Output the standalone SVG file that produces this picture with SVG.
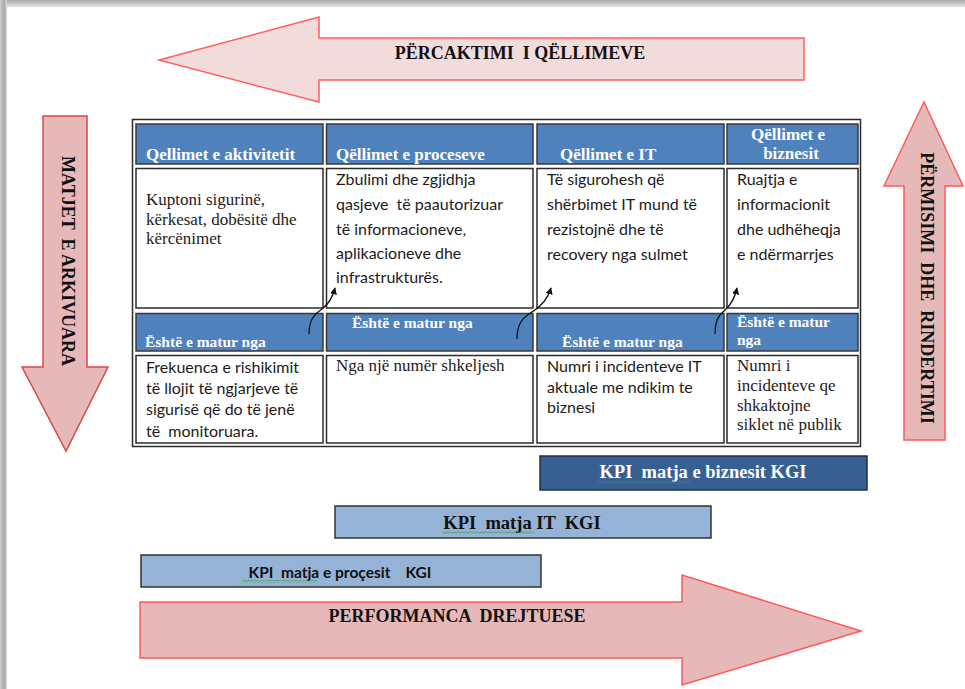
<svg xmlns="http://www.w3.org/2000/svg" width="965" height="689" viewBox="0 0 965 689">
  <style>
    .serif { font-family: "Liberation Serif", "Times New Roman", serif; }
    .sans { font-family: Lato, "Liberation Sans", Arial, sans-serif; }
    .pre { white-space: pre; }
    .band { font-family: "Liberation Serif", "Times New Roman", serif; font-weight: bold; font-size: 18px; fill: #111; white-space: pre; }
    .arrowLight { fill: #f2dcdb; stroke: #ff5f5f; stroke-width: 1.5; }
    .arrowDark { fill: #e6b9b8; stroke: #ff5a5a; stroke-width: 1.5; }
    .outer { fill: #fff; stroke: #2b2b2b; stroke-width: 1.5; }
    .head { fill: #4f81bd; stroke: #3a3a3a; stroke-width: 1.5; }
    .cell { fill: #fff; stroke: #2b2b2b; stroke-width: 1.5; }
    .headTxt { font-family: "Liberation Serif", "Times New Roman", serif; font-weight: bold; font-size: 17px; fill: #fff; }
    .measTxt { font-family: "Liberation Serif", "Times New Roman", serif; font-weight: bold; font-size: 15.5px; fill: #fff; }
    .body { font-size: 17px; fill: #1e1a1a; }
    .bodySans { font-size: 16px; fill: #1e1a1a; }
    .kpiDark { fill: #375f91; stroke: #1f2f45; stroke-width: 1.5; }
    .kpiLight { fill: #95b3d7; stroke: #333; stroke-width: 1.5; }
    .conn { fill: none; stroke: #111; stroke-width: 1.3; }
  </style>
  <defs>
    <linearGradient id="shadeTop" x1="0" y1="0" x2="0" y2="1">
      <stop offset="0" stop-color="#a9a9a9"/>
      <stop offset="1" stop-color="#e4e4e4"/>
    </linearGradient>
    <linearGradient id="shadeLeft" x1="0" y1="0" x2="1" y2="0">
      <stop offset="0" stop-color="#cfcfcf"/>
      <stop offset="0.6" stop-color="#a8a8a8"/>
      <stop offset="1" stop-color="#dcdcdc"/>
    </linearGradient>
    <marker id="tip" viewBox="0 0 10 10" refX="9" refY="5" markerWidth="7" markerHeight="7" orient="auto" markerUnits="userSpaceOnUse">
      <path d="M0,0 L10,5 L0,10 Z" fill="#111"/>
    </marker>
    <pattern id="squiggle" width="4" height="3" patternUnits="userSpaceOnUse">
      <path d="M0,2.2 L2,0.6 L4,2.2" fill="none" stroke="#3c9a3c" stroke-width="0.8"/>
    </pattern>
  </defs>

  <!-- page and its drop shadow -->
  <rect x="0" y="0" width="965" height="689" fill="#fff"/>
  <rect x="0" y="0" width="965" height="7" fill="url(#shadeTop)"/>
  <rect x="0" y="0" width="7" height="689" fill="url(#shadeLeft)"/>

  <!-- big direction arrows -->
  <g id="arrow-percaktimi">
    <polygon class="arrowLight" points="159,60 319,17 319,38 804,38 804,80 319,80 319,102"/>
    <text class="band" x="520" y="59" text-anchor="middle">PËRCAKTIMI  I QËLLIMEVE</text>
  </g>
  <g id="arrow-matjet">
    <polygon class="arrowDark" points="43,116 87,116 87,367 108,367 66,451 22,367 43,367" style="stroke:#d9484a"/>
    <text class="band" transform="translate(62,261) rotate(90)" x="0" y="0" text-anchor="middle">MATJET  E ARKIVUARA</text>
  </g>
  <g id="arrow-permisimi">
    <polygon class="arrowDark" points="924,102 963,186 945,186 945,440 904,440 904,186 884,186"/>
    <text class="band" transform="translate(921,288) rotate(90)" x="0" y="0" text-anchor="middle">PËRMISIMI  DHE  RINDERTIMI</text>
  </g>
  <g id="arrow-performanca">
    <polygon class="arrowDark" points="140,602 682,602 682,575 861,631 682,685 682,658 140,658"/>
    <text class="band" x="457" y="622" text-anchor="middle">PERFORMANCA  DREJTUESE</text>
  </g>

  <!-- goals table -->
  <g id="table">
    <rect class="outer" x="132.5" y="119.5" width="728" height="327"/>
  </g>

  <g id="goal-aktiviteti">
    <rect class="head" x="136" y="124" width="187" height="40"/>
    <text class="headTxt" x="146" y="160">Qellimet e aktivitetit</text>
    <rect class="cell" x="136" y="168.5" width="187" height="139.5"/>
    <text class="serif body" x="146" y="205">Kuptoni sigurinë,</text>
    <text class="serif body" x="146" y="225">kërkesat, dobësitë dhe</text>
    <text class="serif body" x="146" y="244">kërcënimet</text>
  </g>
  <g id="goal-proceset">
    <rect class="head" x="326.5" y="124" width="206.5" height="40"/>
    <text class="headTxt" x="336" y="160">Qëllimet e proceseve</text>
    <rect class="cell" x="326.5" y="168.5" width="206.5" height="139.5"/>
    <text class="sans bodySans pre" x="336" y="185">Zbulimi dhe zgjidhja</text>
    <text class="sans bodySans pre" x="336" y="210">qasjeve  të paautorizuar</text>
    <text class="sans bodySans pre" x="336" y="235">të informacioneve,</text>
    <text class="sans bodySans pre" x="336" y="259">aplikacioneve dhe</text>
    <text class="sans bodySans pre" x="336" y="283">infrastrukturës.</text>
  </g>
  <g id="goal-it">
    <rect class="head" x="537" y="124" width="187" height="40"/>
    <text class="headTxt" x="560" y="160">Qëllimet e IT</text>
    <rect class="cell" x="537" y="168.5" width="187" height="139.5"/>
    <text class="sans bodySans" x="547" y="185">Të sigurohesh që</text>
    <text class="sans bodySans" x="547" y="210">shërbimet IT mund të</text>
    <text class="sans bodySans" x="547" y="235">rezistojnë dhe të</text>
    <text class="sans bodySans" x="547" y="260">recovery nga sulmet</text>
  </g>
  <g id="goal-biznesi">
    <rect class="head" x="727" y="124" width="131" height="40"/>
    <text class="headTxt" x="788" y="140" text-anchor="middle">Qëllimet e</text>
    <text class="headTxt" x="791" y="159" text-anchor="middle">biznesit</text>
    <rect class="cell" x="727" y="168.5" width="131" height="139.5"/>
    <text class="sans bodySans" x="737" y="185">Ruajtja e</text>
    <text class="sans bodySans" x="737" y="210">informacionit</text>
    <text class="sans bodySans" x="737" y="235">dhe udhëheqja</text>
    <text class="sans bodySans" x="737" y="260">e ndërmarrjes</text>
  </g>

  <g id="measure-aktiviteti">
    <rect class="head" x="136" y="313.5" width="187" height="37.5"/>
    <text class="measTxt" x="145" y="347">Është e matur nga</text>
    <rect class="cell" x="136" y="355.5" width="187" height="87.5"/>
    <text class="sans bodySans pre" x="146" y="373">Frekuenca e rishikimit</text>
    <text class="sans bodySans pre" x="146" y="394">të llojit të ngjarjeve të</text>
    <text class="sans bodySans pre" x="146" y="415">sigurisë që do të jenë</text>
    <text class="sans bodySans pre" x="146" y="437">të  monitoruara.</text>
  </g>
  <g id="measure-proceset">
    <rect class="head" x="326.5" y="313.5" width="206.5" height="37.5"/>
    <text class="measTxt" x="352" y="328">Është e matur nga</text>
    <rect class="cell" x="326.5" y="355.5" width="206.5" height="87.5"/>
    <text class="serif body" x="336" y="371">Nga një numër shkeljesh</text>
  </g>
  <g id="measure-it">
    <rect class="head" x="537" y="313.5" width="187" height="37.5"/>
    <text class="measTxt" x="562" y="347">Është e matur nga</text>
    <rect class="cell" x="537" y="355.5" width="187" height="87.5"/>
    <text class="sans bodySans" x="547" y="372">Numri i incidenteve IT</text>
    <text class="sans bodySans" x="547" y="393">aktuale me ndikim te</text>
    <text class="sans bodySans" x="547" y="413">biznesi</text>
  </g>
  <g id="measure-biznesi">
    <rect class="head" x="727" y="313.5" width="131" height="37.5"/>
    <text class="measTxt" x="737" y="327">Është e matur</text>
    <text class="measTxt" x="737" y="345">nga</text>
    <rect class="cell" x="727" y="355.5" width="131" height="87.5"/>
    <text class="serif body" x="737" y="371">Numri i</text>
    <text class="serif body" x="737" y="391">incidenteve qe</text>
    <text class="serif body" x="737" y="411">shkaktojne</text>
    <text class="serif body" x="737" y="430">siklet në publik</text>
  </g>

  <!-- links from each measure up to the next goal -->
  <g id="connectors">
    <path class="conn" marker-end="url(#tip)" d="M309,334 C309,318 316,313 322,309 C330,303 333,296 335,288"/>
    <path class="conn" marker-end="url(#tip)" d="M517,339 C517,322 524,317 532,312 C542,306 548,298 551,288"/>
    <path class="conn" marker-end="url(#tip)" d="M715,334 C715,320 719,315 725,310 C732,304 735,297 737,288"/>
  </g>

  <!-- KPI / KGI bars -->
  <g id="kpi-biznesi">
    <rect class="kpiDark" x="540" y="456" width="327" height="34"/>
    <text class="serif pre" x="703" y="478" text-anchor="middle" font-weight="bold" font-size="18.5" fill="#fff">KPI  matja e biznesit KGI</text>
    <rect x="598" y="481" width="92" height="3" fill="url(#squiggle)"/>
  </g>
  <g id="kpi-it">
    <rect class="kpiLight" x="335" y="506" width="376" height="32"/>
    <text class="serif pre" x="522" y="529" text-anchor="middle" font-weight="bold" font-size="18.5" fill="#111">KPI  matja IT  KGI</text>
    <rect x="442" y="531" width="92" height="3" fill="url(#squiggle)"/>
  </g>
  <g id="kpi-procesi">
    <rect class="kpiLight" x="141" y="555" width="400" height="32"/>
    <text class="sans pre" x="340" y="578" text-anchor="middle" font-weight="bold" font-size="15.5" fill="#111">KPI  matja e proçesit    KGI</text>
    <rect x="242" y="580" width="75" height="3" fill="url(#squiggle)"/>
  </g>
</svg>
